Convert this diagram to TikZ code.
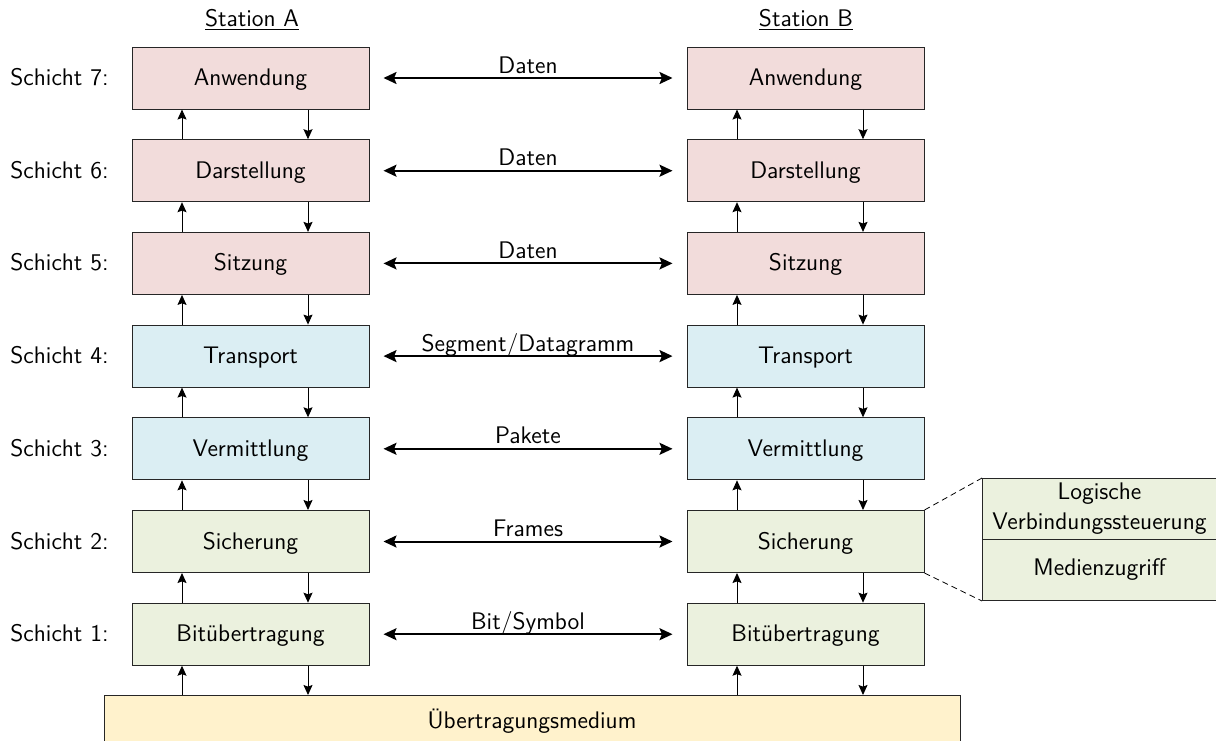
\documentclass[tikz,border=0pt]{standalone}
\usetikzlibrary{arrows.meta}
\definecolor{upperfill}{HTML}{F2DCDB}
\definecolor{midfill}{HTML}{DBEEF3}
\definecolor{lowerfill}{HTML}{EBF1DE}
\definecolor{mediumfill}{HTML}{FFF2CC}
\begin{document}
\begin{tikzpicture}[x=0.5pt, y=-0.5pt,
  font=\sffamily\fontsize{12}{15}\selectfont,
  layer/.style={draw=black!85, line width=0.5pt, minimum width=118.5pt,
    minimum height=31pt, inner sep=0pt, text height=10pt, text depth=2.5pt},
  sidebox/.style={draw=black!85, line width=0.5pt, fill=lowerfill,
    minimum width=117pt, minimum height=30.5pt, inner sep=0pt, align=center, anchor=north west},
  peer/.style={{Stealth[length=6.5pt,width=6pt,inset=1.2pt]}-{Stealth[length=6.5pt,width=6pt,inset=1.2pt]},
    line width=1pt, shorten <=7pt, shorten >=7pt},
  flow/.style={-{Stealth[length=5pt,width=4.5pt,inset=0.8pt]}, line width=0.5pt},
  zoomline/.style={dashed, dash pattern=on 3pt off 2pt, line width=0.4pt}]
\useasboundingbox (0,0) rectangle (1216,740);

% station headings
\node[anchor=base] (stA) at (252,26) {\underline{Station A}};
\node[anchor=base] (stB) at (806,26) {\underline{Station B}};

% x positions of the vertical service arrows
\coordinate (ua) at (182,0);
\coordinate (da) at (308,0);
\coordinate (ub) at (737,0);
\coordinate (db) at (863,0);

% the seven layers of both stations and their peer protocols
\foreach \k/\name/\col/\msg in {
    7/Anwendung/upperfill/Daten,
    6/Darstellung/upperfill/Daten,
    5/Sitzung/upperfill/Daten,
    4/Transport/midfill/{Segment/Datagramm},
    3/Vermittlung/midfill/Pakete,
    2/Sicherung/lowerfill/Frames,
    1/Bitübertragung/lowerfill/{Bit/Symbol}} {
  \pgfmathsetmacro\yy{78+(7-\k)*92.7}
  \node[layer, fill=\col] (A\k) at (250.5,\yy) {\name};
  \node[layer, fill=\col] (B\k) at (805.5,\yy) {\name};
  \node[anchor=base east, inner sep=0pt] (S\k) at (109,\yy+7.5) {Schicht \k:};
  \draw[peer] (A\k) -- (B\k);
  \node[anchor=base, inner sep=0pt] (L\k) at (528,\yy-5) {\msg};
}

% transmission medium
\node[layer, fill=mediumfill, minimum width=428pt, minimum height=25pt, anchor=north]
  (med) at (532,695) {Übertragungsmedium};

% vertical service arrows between neighbouring layers
\foreach \k [evaluate=\k as \j using int(\k+1)] in {1,...,6} {
  \draw[flow] (A\k.north -| ua) -- (A\j.south -| ua);
  \draw[flow] (A\j.south -| da) -- (A\k.north -| da);
  \draw[flow] (B\k.north -| ub) -- (B\j.south -| ub);
  \draw[flow] (B\j.south -| db) -- (B\k.north -| db);
}
\draw[flow] (med.north -| ua) -- (A1.south -| ua);
\draw[flow] (A1.south -| da) -- (med.north -| da);
\draw[flow] (med.north -| ub) -- (B1.south -| ub);
\draw[flow] (B1.south -| db) -- (med.north -| db);

% sublayers of the data link layer
\node[sidebox] (llc) at (982,478) {Logische\\Verbindungssteuerung};
\node[sidebox] (mac) at (982,539) {Medienzugriff};
\draw[zoomline] (B2.north east) -- (llc.north west);
\draw[zoomline] (B2.south east) -- (mac.south west);
\end{tikzpicture}
\end{document}
